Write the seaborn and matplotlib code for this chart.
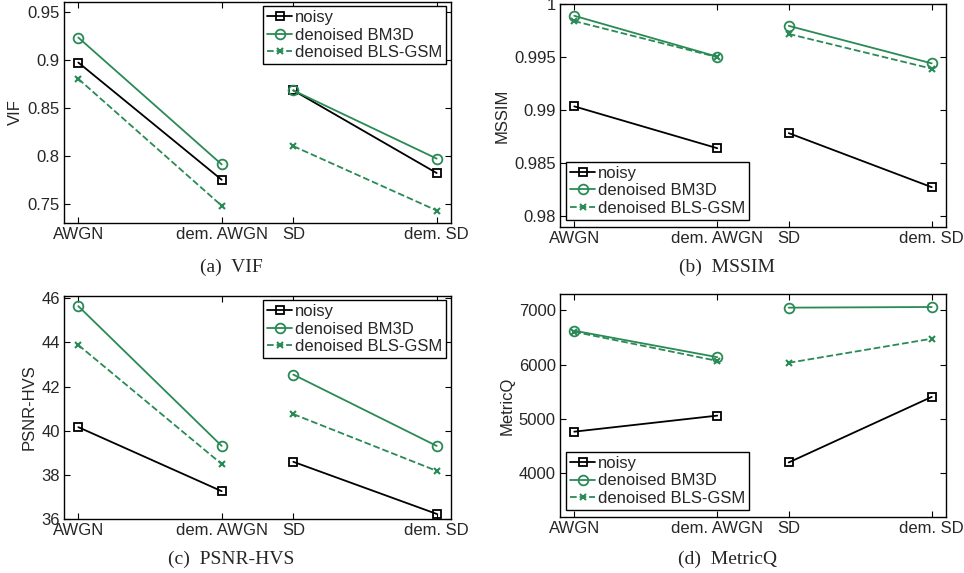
import numpy as np
import pandas as pd
import seaborn as sns
import matplotlib.pyplot as plt
from matplotlib.lines import Line2D
from matplotlib.ticker import FuncFormatter

# x categories and their positions on the axis (two groups of two)
conditions = ["AWGN", "dem. AWGN", "SD", "dem. SD"]
positions = [1, 2, 2.5, 3.5]
groups = ["awgn", "awgn", "sd", "sd"]
series_names = ["noisy", "denoised BM3D", "denoised BLS-GSM"]

# values
vif_noisy = [0.897, 0.775, 0.868, 0.782]
vif_bm3d = [0.923, 0.791, 0.868, 0.797]
vif_bls = [0.880, 0.748, 0.810, 0.743]

mssim_noisy = [0.99036, 0.98642, 0.98784, 0.98275]
mssim_bm3d = [0.99889, 0.99504, 0.99794, 0.99441]
mssim_bls = [0.99839, 0.99500, 0.99718, 0.99391]

psnr_noisy = [40.16, 37.26, 38.59, 36.23]
psnr_bm3d = [45.64, 39.31, 42.54, 39.31]
psnr_bls = [43.88, 38.49, 40.75, 38.18]

mq_noisy = [4769, 5064, 4203, 5408]
mq_bm3d = [6625, 6139, 7049, 7061]
mq_bls = [6605, 6070, 6035, 6478]

green = "#2a8a55"
styles = {
    "noisy": dict(color="black", marker="s", linestyle="-", markersize=6,
                  markerfacecolor="none", markeredgecolor="black", markeredgewidth=1.3),
    "denoised BM3D": dict(color=green, marker="o", linestyle="-", markersize=7,
                          markerfacecolor="none", markeredgecolor=green, markeredgewidth=1.3),
    "denoised BLS-GSM": dict(color=green, marker="x", linestyle="--", markersize=5,
                             markeredgecolor=green, markeredgewidth=1.5),
}

panels = [
    dict(vals=[vif_noisy, vif_bm3d, vif_bls], ylabel="VIF", caption="(a)  VIF",
         ylim=(0.73, 0.96), yticks=[0.75, 0.8, 0.85, 0.9, 0.95], loc="upper right",
         rect=[64, 2, 451, 223], cap=(231, 267)),
    dict(vals=[mssim_noisy, mssim_bm3d, mssim_bls], ylabel="MSSIM", caption="(b)  MSSIM",
         ylim=(0.979, 1.0), yticks=[0.98, 0.985, 0.99, 0.995, 1.0], loc="lower left",
         rect=[560, 4, 946, 227], cap=(727, 267)),
    dict(vals=[psnr_noisy, psnr_bm3d, psnr_bls], ylabel="PSNR-HVS", caption="(c)  PSNR-HVS",
         ylim=(36, 46.1), yticks=[36, 38, 40, 42, 44, 46], loc="upper right",
         rect=[64, 296, 451, 519], cap=(231, 559)),
    dict(vals=[mq_noisy, mq_bm3d, mq_bls], ylabel="MetricQ", caption="(d)  MetricQ",
         ylim=(3200, 7300), yticks=[4000, 5000, 6000, 7000], loc="lower left",
         rect=[560, 294, 946, 517], cap=(727, 559)),
]

sns.set_style("ticks", {"xtick.direction": "in", "ytick.direction": "in"})
plt.rcParams["font.family"] = ["Liberation Sans", "DejaVu Sans"]

W, H = 964, 573
fig = plt.figure(figsize=(W / 100, H / 100), dpi=100)

for p in panels:
    l, t, r, b = p["rect"]
    ax = fig.add_axes([l / W, (H - b) / H, (r - l) / W, (b - t) / H])

    for name, vals in zip(series_names, p["vals"]):
        df = pd.DataFrame({"pos": positions, "value": vals, "group": groups})
        sns.lineplot(data=df, x="pos", y="value", units="group", estimator=None,
                     sort=False, ax=ax, linewidth=1.3, **styles[name])

    ax.set_xlim(0.9, 3.6)
    ax.set_ylim(*p["ylim"])
    ax.set_xticks(positions)
    ax.set_xticklabels(conditions)
    ax.set_yticks(p["yticks"])
    ax.yaxis.set_major_formatter(FuncFormatter(lambda v, _: "%g" % v))
    ax.tick_params(axis="both", which="both", direction="in", top=True, right=True,
                   length=4, width=0.8, labelsize=12, pad=3, color="black")
    ax.set_xlabel("")
    ax.set_ylabel(p["ylabel"], fontsize=12, labelpad=3)
    for s in ax.spines.values():
        s.set_visible(True)
        s.set_linewidth(1.0)
        s.set_color("black")

    handles = [Line2D([], [], linewidth=1.3, **styles[n]) for n in series_names]
    if p["loc"] == "upper right":
        anchor = (1 - 5 / (r - l), 1 - 4 / (b - t))
    else:
        anchor = (6 / (r - l), 7 / (b - t))
    leg = ax.legend(handles, series_names, loc=p["loc"], bbox_to_anchor=anchor,
                    borderaxespad=0, fontsize=12, handlelength=1.5,
                    handletextpad=0.15, labelspacing=0.15, borderpad=0.25,
                    fancybox=False, framealpha=1, edgecolor="black")
    leg.get_frame().set_linewidth(1.0)

    cx, cy = p["cap"]
    fig.text(cx / W, 1 - cy / H, p["caption"], ha="center", va="center", fontsize=14,
             family=["Liberation Serif", "DejaVu Serif"])

fig.savefig("out.png", dpi=100)
plt.close(fig)
